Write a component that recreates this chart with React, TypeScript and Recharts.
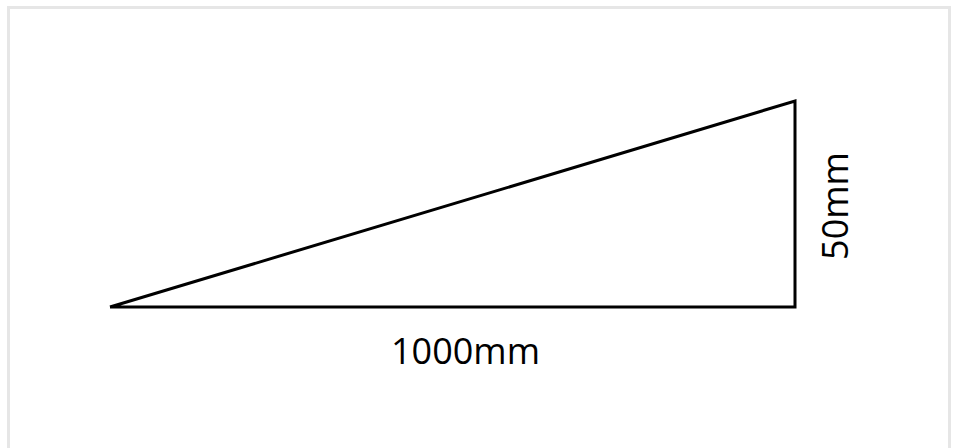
import React from 'react';
import { LineChart, Line, XAxis, YAxis, Customized } from 'recharts';

const lengths = [0, 1000, 1000, 0];
const heights = [0, 0, 50, 0];
const baseLabel = '1000mm';
const heightLabel = '50mm';

const data = lengths.map((x, i) => ({ x, y: heights[i] }));

const Labels = (props: any) => {
  const off = props.offset || {};
  const left = off.left ?? 110;
  const top = off.top ?? 101;
  const w = off.width ?? 685;
  const h = off.height ?? 206;
  const font = { fontFamily: '"Open Sans", sans-serif', fontSize: 36, fill: '#000' };
  return (
    <g>
      <text x={left + w / 2 + 13} y={top + h + 57} textAnchor="middle" {...font}>
        {baseLabel}
      </text>
      <text
        x={0}
        y={0}
        textAnchor="middle"
        transform={`translate(${left + w + 53}, ${top + h / 2 + 2}) rotate(-90)`}
        {...font}
      >
        {heightLabel}
      </text>
    </g>
  );
};

export default function App() {
  return (
    <div style={{ position: 'fixed', left: 0, top: 0, width: 958, height: 448, background: '#fff' }}>
      <div
        style={{
          position: 'absolute',
          left: 7,
          top: 6,
          width: 938,
          height: 460,
          border: '3px solid #e6e6e6',
        }}
      />
      <div style={{ position: 'absolute', left: 0, top: 0 }}>
        <LineChart width={958} height={448} data={data} margin={{ left: 110, right: 163, top: 101, bottom: 141 }}>
          <XAxis dataKey="x" type="number" domain={[0, 1000]} hide />
          <YAxis type="number" domain={[0, 50]} hide />
          <Line
            dataKey="y"
            stroke="#000"
            strokeWidth={3}
            dot={false}
            activeDot={false}
            isAnimationActive={false}
            strokeLinejoin="miter"
          />
          <Customized component={Labels} />
        </LineChart>
      </div>
    </div>
  );
}
